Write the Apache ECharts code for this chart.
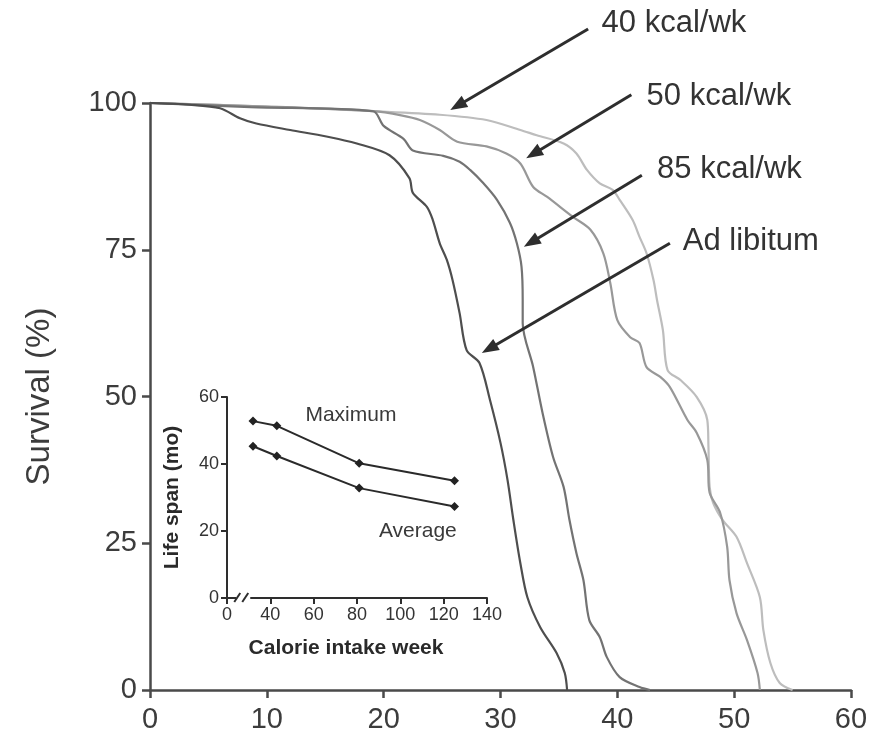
<!DOCTYPE html>
<html>
<head>
<meta charset="utf-8">
<script src="https://cdn.jsdelivr.net/npm/echarts@6/dist/echarts.min.js"></script>
<style>
  html, body { margin: 0; padding: 0; background: #ffffff; }
  #chart { width: 881px; height: 739px; }
</style>
</head>
<body>
<div id="chart"></div>
<script>
// Survival curves: [time on the 0-60 axis, survival %]
const adLibitum = [
  [0,100],[3.4,99.7],[6.0,99.1],[7.7,97.4],[9.1,96.5],[12.0,95.4],[15.1,94.3],[17.7,93.1],
  [20.5,91.1],[22.2,87.2],[22.5,84.7],[23.7,82.3],[24.2,80.1],[24.8,76.1],[25.4,73.3],
  [25.9,69.8],[26.5,64.2],[27.1,57.9],[28.2,55.7],[29.1,49.4],[30.0,42.1],[30.6,35.8],
  [31.1,29.0],[31.7,21.6],[32.3,15.8],[33.4,10.7],[34.8,6.3],[35.5,2.9],[35.7,0]
];
const kcal85 = [
  [0,100],[8.6,99.3],[19.1,98.6],[20.0,96.1],[21.7,93.9],[22.5,91.9],[25.1,91.0],
  [26.5,90.0],[27.4,88.6],[28.5,86.4],[29.7,83.5],[30.8,79.6],[31.4,76.1],[31.8,72.1],
  [31.9,66.4],[31.9,62.5],[32.8,55.0],[33.6,47.2],[34.5,39.7],[35.4,34.6],[35.9,29.0],
  [36.5,23.3],[37.1,18.7],[37.6,11.9],[38.5,9.0],[39.1,5.6],[40.2,2.2],[41.9,0.5],[42.8,0]
];
const kcal50 = [
  [0,100],[10,99.4],[19.1,98.6],[21.5,97.9],[23.1,97.1],[24.8,95.4],[26.3,93.4],
  [28.8,92.6],[30.5,91.4],[31.7,89.7],[32.8,85.7],[34.0,84.0],[36.2,80.6],[37.7,78.4],
  [38.8,74.4],[39.4,69.3],[40.0,63.0],[41.1,60.1],[41.9,59.1],[42.5,55.0],[43.7,53.3],
  [44.5,51.6],[46.0,46.0],[46.8,43.8],[47.7,39.2],[47.9,33.6],[48.8,30.2],[49.4,24.4],
  [49.6,18.7],[50.2,13.1],[51.1,8.5],[52.0,2.9],[52.2,0]
];
const kcal40 = [
  [0,100],[10,99.4],[19.1,98.6],[24.8,98.0],[28.8,97.1],[31.7,95.4],[33.1,94.5],
  [35.4,93.1],[36.5,91.4],[37.4,88.6],[38.5,86.3],[39.6,85.2],[40.2,83.5],[41.3,80.1],
  [41.9,77.2],[42.5,74.4],[43.1,69.8],[43.4,66.4],[43.9,61.3],[44.3,54.5],[45.4,52.8],
  [46.8,49.9],[47.7,46.0],[47.8,41.4],[47.9,34.6],[48.2,31.9],[49.0,29.0],[50.2,26.1],
  [51.1,21.6],[52.2,15.8],[52.5,10.2],[53.1,4.6],[53.9,1.2],[55.0,0]
];

// Inset: life span vs calorie intake
const calorieIntake = [32, 43, 81, 125];
const maxLifespan = [52.8, 51.4, 40.2, 35.0];
const avgLifespan = [45.3, 42.4, 32.8, 27.3];

// Curve labels with arrow start/tip in data coordinates of the main plot
const curveLabels = ['40 kcal/wk', '50 kcal/wk', '85 kcal/wk', 'Ad libitum'];
const labelAnchors = [[38.65, 113.6], [42.5, 101.1], [43.4, 88.6], [45.6, 76.4]];
const arrowFrom = [[37.5, 112.6], [41.2, 101.4], [42.1, 87.7], [44.5, 76.1]];
const arrowTo = [[25.7, 98.8], [32.2, 90.6], [32.0, 75.5], [28.4, 57.4]];

const FONT = '"Liberation Sans", Arial, Helvetica, sans-serif';
const chart = echarts.init(document.getElementById('chart'), null, { renderer: 'canvas' });

const mainAxisStyle = { color: '#4a4a4a', width: 2.5 };
const insetAxisStyle = { color: '#2e2e2e', width: 2 };

const pair = (xs, ys) => xs.map((x, i) => [x, ys[i]]);

chart.setOption({
  animation: false,
  backgroundColor: '#ffffff',
  grid: [
    { left: 150, right: 30, top: 103, bottom: 49 },
    { left: 227, right: 394, top: 397, bottom: 141 }
  ],
  xAxis: [
    {
      gridIndex: 0, type: 'value', min: 0, max: 60, interval: 10,
      axisLine: { lineStyle: mainAxisStyle },
      axisTick: { length: 8, lineStyle: mainAxisStyle },
      axisLabel: { fontFamily: FONT, fontSize: 29, color: '#3c3c3c', margin: 15 },
      splitLine: { show: false }
    },
    {
      gridIndex: 1, type: 'value', min: 20, max: 140, interval: 20,
      axisLine: { onZero: false, lineStyle: insetAxisStyle },
      axisTick: { length: 6, lineStyle: insetAxisStyle },
      axisLabel: {
        fontFamily: FONT, fontSize: 18, color: '#333', margin: 8,
        formatter: v => (v === 20 ? '0' : String(v))
      },
      splitLine: { show: false },
      name: 'Calorie intake week', nameLocation: 'middle', nameGap: 40,
      nameTextStyle: { fontFamily: FONT, fontSize: 21, fontWeight: 'bold', color: '#2a2a2a', padding: [0, 22, 0, 0] }
    }
  ],
  yAxis: [
    {
      gridIndex: 0, type: 'value', min: 0, max: 100, interval: 25,
      axisLine: { lineStyle: mainAxisStyle },
      axisTick: { length: 8, lineStyle: mainAxisStyle },
      axisLabel: { fontFamily: FONT, fontSize: 29, color: '#3c3c3c', margin: 13 },
      splitLine: { show: false },
      name: 'Survival (%)', nameLocation: 'middle', nameGap: 94, nameRotate: 90,
      nameTextStyle: { fontFamily: FONT, fontSize: 33, color: '#3c3c3c' }
    },
    {
      gridIndex: 1, type: 'value', min: 0, max: 60, interval: 20,
      axisLine: { lineStyle: insetAxisStyle },
      axisTick: { length: 6, lineStyle: insetAxisStyle },
      axisLabel: { fontFamily: FONT, fontSize: 18, color: '#333', margin: 8 },
      splitLine: { show: false },
      name: 'Life span (mo)', nameLocation: 'middle', nameGap: 44, nameRotate: 90,
      nameTextStyle: { fontFamily: FONT, fontSize: 21, fontWeight: 'bold', color: '#2a2a2a' }
    }
  ],
  series: [
    { name: '40 kcal/wk', type: 'line', xAxisIndex: 0, yAxisIndex: 0, data: kcal40, smooth: 0.3,
      showSymbol: false, lineStyle: { color: '#bdbdbd', width: 2.2 }, z: 2 },
    { name: '50 kcal/wk', type: 'line', xAxisIndex: 0, yAxisIndex: 0, data: kcal50, smooth: 0.3,
      showSymbol: false, lineStyle: { color: '#989898', width: 2.2 }, z: 3 },
    { name: '85 kcal/wk', type: 'line', xAxisIndex: 0, yAxisIndex: 0, data: kcal85, smooth: 0.3,
      showSymbol: false, lineStyle: { color: '#737373', width: 2.2 }, z: 4 },
    { name: 'Ad libitum', type: 'line', xAxisIndex: 0, yAxisIndex: 0, data: adLibitum, smooth: 0.3,
      showSymbol: false, lineStyle: { color: '#4e4e4e', width: 2.2 }, z: 5 },
    { name: 'Maximum', type: 'line', xAxisIndex: 1, yAxisIndex: 1, data: pair(calorieIntake, maxLifespan),
      symbol: 'diamond', symbolSize: 9, itemStyle: { color: '#222' },
      lineStyle: { color: '#2a2a2a', width: 2 }, z: 6 },
    { name: 'Average', type: 'line', xAxisIndex: 1, yAxisIndex: 1, data: pair(calorieIntake, avgLifespan),
      symbol: 'diamond', symbolSize: 9, itemStyle: { color: '#222' },
      lineStyle: { color: '#2a2a2a', width: 2 }, z: 6 }
  ]
});

// Annotations placed through the axes' own coordinate conversion
const toMain = p => chart.convertToPixel({ xAxisIndex: 0, yAxisIndex: 0 }, p);
const toInset = p => chart.convertToPixel({ xAxisIndex: 1, yAxisIndex: 1 }, p);
const graphics = [];

curveLabels.forEach((txt, i) => {
  const a = toMain(labelAnchors[i]);
  graphics.push({
    type: 'text', z: 20,
    style: { text: txt, x: a[0], y: a[1], font: '31px ' + FONT, fill: '#333', align: 'left', verticalAlign: 'middle' }
  });
  const s = toMain(arrowFrom[i]);
  const t = toMain(arrowTo[i]);
  const dx = t[0] - s[0], dy = t[1] - s[1];
  const len = Math.hypot(dx, dy);
  const ux = dx / len, uy = dy / len;
  const head = 17, half = 6.5;
  const bx = t[0] - ux * head, by = t[1] - uy * head;
  graphics.push({
    type: 'line', z: 20,
    shape: { x1: s[0], y1: s[1], x2: bx + ux * 2, y2: by + uy * 2 },
    style: { stroke: '#2e2e2e', lineWidth: 3 }
  });
  graphics.push({
    type: 'polygon', z: 20,
    shape: { points: [[t[0], t[1]], [bx - uy * half, by + ux * half], [bx + uy * half, by - ux * half]] },
    style: { fill: '#2e2e2e' }
  });
});

// Inset curve names
const mx = toInset([77.2, 54.6]);
graphics.push({ type: 'text', z: 20,
  style: { text: 'Maximum', x: mx[0], y: mx[1], font: '21px ' + FONT, fill: '#3a3a3a', align: 'center', verticalAlign: 'middle' } });
const av = toInset([108.1, 19.8]);
graphics.push({ type: 'text', z: 20,
  style: { text: 'Average', x: av[0], y: av[1], font: '21px ' + FONT, fill: '#3a3a3a', align: 'center', verticalAlign: 'middle' } });

// Axis break mark on the inset x axis
const br = toInset([27.5, 0]);
graphics.push({ type: 'rect', z: 30, shape: { x: br[0] - 7, y: br[1] - 3, width: 14, height: 6 }, style: { fill: '#fff' } });
graphics.push({ type: 'line', z: 31, shape: { x1: br[0] - 9, y1: br[1] + 4, x2: br[0] - 3, y2: br[1] - 5 }, style: { stroke: '#2e2e2e', lineWidth: 2 } });
graphics.push({ type: 'line', z: 31, shape: { x1: br[0] - 1, y1: br[1] + 4, x2: br[0] + 5, y2: br[1] - 5 }, style: { stroke: '#2e2e2e', lineWidth: 2 } });

chart.setOption({ graphic: graphics });
</script>
</body>
</html>
